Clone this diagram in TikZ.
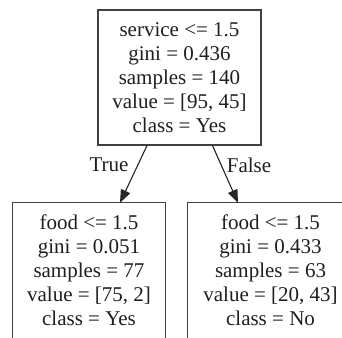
\documentclass[tikz,border=0pt]{standalone}
\usepackage{fontspec}
\setmainfont{Liberation Serif}
\usetikzlibrary{arrows.meta,calc}
\begin{document}
\begin{tikzpicture}[x=1pt,y=-1pt,
  treebox/.style={draw=black!75,line width=1.1pt,rectangle,inner sep=0pt,
    text=black!88,align=center,font=\fontsize{21}{24}\selectfont},
  leafbox/.style={rectangle,inner sep=0pt,
    text=black!88,align=center,font=\fontsize{21}{24}\selectfont},
  boxline/.style={draw=black!75,line width=1.1pt},
  edge/.style={draw=black!85,line width=1.1pt,-{Triangle[length=13pt,width=10pt]}},
  elabel/.style={text=black!88,font=\fontsize{21}{24}\selectfont,inner sep=0pt}]
\useasboundingbox (0,0) rectangle (342,337);
\clip (0,0) rectangle (342,337);
\fill[white] (0,0) rectangle (342,337);
\node[treebox,minimum width=163pt,minimum height=135pt] (root) at (179.5,77.5)
  {service <= 1.5\\gini = 0.436\\samples = 140\\value = [95, 45]\\class = Yes};
\node[leafbox,minimum width=152pt,minimum height=135pt] (left) at (89,270.5)
  {food <= 1.5\\gini = 0.051\\samples = 77\\value = [75, 2]\\class = Yes};
\node[leafbox,minimum width=165pt,minimum height=135pt] (right) at (270.5,270.5)
  {food <= 1.5\\gini = 0.433\\samples = 63\\value = [20, 43]\\class = No};
\draw[boxline] (left.north west) rectangle ($(left.north east)+(0,160)$);
\draw[boxline] (right.north west) rectangle ($(right.north east)+(0,160)$);
\draw[edge] ($(root.south)+(-32.5,0)$) -- ($(left.north)+(31,0)$);
\draw[edge] ($(root.south)+(33,0)$) -- ($(right.north)+(-32.5,0)$);
\node[elabel] (tl) at (109,165) {True};
\node[elabel] (fl) at (249,165) {False};
\end{tikzpicture}
\end{document}
